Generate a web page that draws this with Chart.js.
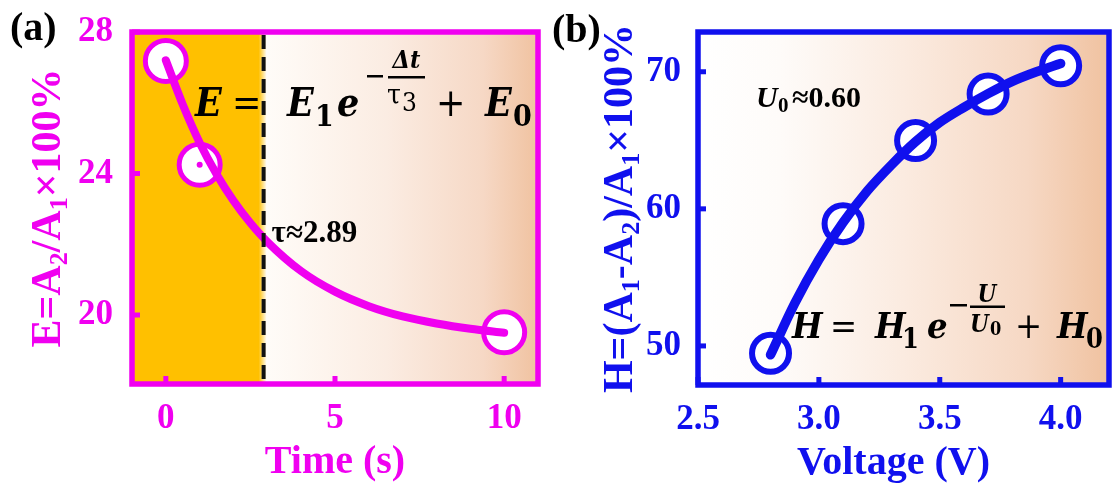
<!DOCTYPE html>
<html>
<head>
<meta charset="utf-8">
<script src="https://cdn.jsdelivr.net/npm/chart.js@4.4.1/dist/chart.umd.min.js"></script>
<style>
  html, body { margin: 0; padding: 0; background: #ffffff; }
  #wrap { position: relative; width: 1112px; height: 488px; overflow: hidden; background: #ffffff; }
  canvas { position: absolute; top: 0; }
  #chartA { left: 0; }
  #chartB { left: 545px; }
</style>
</head>
<body>
<div id="wrap">
  <canvas id="chartA" width="555" height="488"></canvas>
  <canvas id="chartB" width="567" height="488"></canvas>
</div>
<script>
// (a) retention ratio versus time
const timeS = [0, 1, 10];
const ratioE = [27.18, 24.25, 19.51];
const fitTimeS = [0, 0.5, 1, 1.5, 2, 2.5, 3, 4, 5, 6, 7, 8, 9, 10];
const fitE = [27.2, 25.95, 24.87, 23.98, 23.23, 22.6, 22.07, 21.24, 20.66, 20.25, 19.96, 19.76, 19.61, 19.5];
const timeTicks = [0, 5, 10];
const eTicks = [20, 24, 28];
const tauTime = 2.89;

// (b) modulation ratio versus voltage
const voltageV = [2.8, 3.1, 3.4, 3.7, 4.0];
const ratioH = [49.47, 58.92, 64.98, 68.38, 70.44];
const fitVoltageV = [2.8, 2.9, 3.0, 3.1, 3.2, 3.3, 3.4, 3.5, 3.6, 3.7, 3.8, 3.9, 4.0];
const fitH = [49.35, 53.1, 56.3, 59.0, 61.3, 63.2, 64.9, 66.3, 67.4, 68.4, 69.3, 70.0, 70.6];
const voltageTicks = [2.5, 3.0, 3.5, 4.0];
const hTicks = [50, 60, 70];

const MAG = '#F000F0';
const BLUE = '#1010EE';
const ORANGE = '#FFC000';
const PEACH = '#F0C2A0';
const SERIF = '"Liberation Serif", "Times New Roman", serif';
const MATH = '"DejaVu Serif Condensed", "DejaVu Serif", serif';

function pairs(xs, ys) { return xs.map((v, i) => ({ x: v, y: ys[i] })); }

// Lays out runs of text one after another; returns total width.
function runsWidth(ctx, runs) {
  let w = 0;
  runs.forEach(r => { ctx.font = r.f; w += ctx.measureText(r.t).width; });
  return w;
}
function drawRuns(ctx, runs, x, y) {
  let cx = x;
  runs.forEach(r => {
    ctx.font = r.f;
    ctx.fillText(r.t, cx, y + (r.dy || 0));
    cx += ctx.measureText(r.t).width;
  });
}
// Places glyphs / bars at offsets from an anchor point.
function drawItems(ctx, ax, ay, items) {
  items.forEach(it => {
    if (it.bar) {
      ctx.fillRect(ax + it.x, ay + it.y, it.w, it.h);
      return;
    }
    ctx.font = it.f;
    ctx.textAlign = it.align || 'left';
    ctx.fillText(it.t, ax + it.x, ay + (it.y || 0));
  });
  ctx.textAlign = 'left';
}

function panelPlugin(o) {
  return {
    id: 'panelDecor',
    beforeDatasetsDraw(chart) {
      const { ctx, chartArea: a, scales: { x } } = chart;
      ctx.save();
      const g = ctx.createLinearGradient(a.left, 0, a.right, 0);
      const f = v => Math.min(1, Math.max(0, (v - a.left) / a.width));
      if (o.shadeTo != null) {
        const xs = x.getPixelForValue(o.shadeTo);
        g.addColorStop(0, ORANGE);
        g.addColorStop(f(xs - 5), ORANGE);
        g.addColorStop(f(xs + 3), '#FFFCF8');
        g.addColorStop(f(xs + 0.45 * (a.right - xs)), '#FBECE2');
        g.addColorStop(f(xs + 0.8 * (a.right - xs)), '#F6D8C5');
        g.addColorStop(1, PEACH);
      } else {
        g.addColorStop(0, '#FFFFFF');
        g.addColorStop(0.2, '#FEFBF9');
        g.addColorStop(0.5, '#FBEBE0');
        g.addColorStop(0.8, '#F6D8C4');
        g.addColorStop(1, PEACH);
      }
      ctx.fillStyle = g;
      ctx.fillRect(a.left, a.top, a.width, a.height);
      ctx.restore();
    },
    afterDatasetsDraw(chart) {
      const { ctx, chartArea: a, scales: { x, y } } = chart;
      ctx.save();
      // small centre dots of the hollow markers
      if (o.centerDots) {
        const meta = chart.getDatasetMeta(1);
        ctx.fillStyle = o.color;
        meta.data.forEach(p => { ctx.beginPath(); ctx.arc(p.x, p.y, 3, 0, Math.PI * 2); ctx.fill(); });
      }
      // inward tick marks
      ctx.fillStyle = o.color;
      o.xMarks.forEach(v => { const px = x.getPixelForValue(v); ctx.fillRect(px - 2.5, a.bottom - 8, 5, 8); });
      o.yMarks.forEach(v => { const py = y.getPixelForValue(v); ctx.fillRect(a.left, py - 2.5, 8, 5); });
      // frame
      ctx.strokeStyle = o.color;
      ctx.lineWidth = 5.5;
      ctx.strokeRect(a.left, a.top, a.width, a.height);
      // dashed marker line
      if (o.dashAt != null) {
        const xd = x.getPixelForValue(o.dashAt);
        ctx.strokeStyle = '#111111';
        ctx.lineWidth = 4;
        ctx.setLineDash([14, 8]);
        ctx.beginPath();
        ctx.moveTo(xd, a.top + 3);
        ctx.lineTo(xd, a.bottom - 3);
        ctx.stroke();
        ctx.setLineDash([]);
      }
      ctx.fillStyle = '#000000';
      ctx.textBaseline = 'alphabetic';
      o.annotate(ctx, chart);
      ctx.restore();
    },
    afterDraw(chart) {
      const { ctx, chartArea: a } = chart;
      ctx.save();
      ctx.textBaseline = 'alphabetic';
      // x title
      ctx.fillStyle = o.color;
      ctx.font = 'bold 40px ' + SERIF;
      ctx.textAlign = 'center';
      ctx.fillText(o.xTitle, (a.left + a.right) / 2 + o.xTitleDx, o.xTitleY);
      // y title with subscripts
      ctx.textAlign = 'left';
      ctx.translate(o.yTitleX, (a.top + a.bottom) / 2);
      ctx.rotate(-Math.PI / 2);
      const w = runsWidth(ctx, o.yTitle);
      drawRuns(ctx, o.yTitle, -w / 2, 0);
      ctx.restore();
      // panel letter
      ctx.save();
      ctx.fillStyle = '#000000';
      ctx.font = 'bold 40px ' + SERIF;
      ctx.textAlign = 'left';
      ctx.textBaseline = 'alphabetic';
      ctx.fillText(o.label, o.labelX, o.labelY);
      ctx.restore();
    }
  };
}

const MAINF = 'bold 42px ' + SERIF;
const SUBF = 'bold 26px ' + SERIF;

function tickFont() { return { family: 'Liberation Serif', weight: 'bold', size: 35 }; }

function makeChart(id, cfg) {
  return new Chart(document.getElementById(id), {
    type: 'scatter',
    data: {
      datasets: [
        {
          data: cfg.fit,
          showLine: true,
          borderColor: cfg.color,
          borderWidth: cfg.lineWidth,
          borderCapStyle: 'round',
          borderJoinStyle: 'round',
          cubicInterpolationMode: 'monotone',
          pointRadius: 0,
          pointHoverRadius: 0,
          fill: false,
          order: 0
        },
        {
          data: cfg.points,
          showLine: false,
          pointRadius: cfg.markerRadius,
          pointHoverRadius: cfg.markerRadius,
          pointBorderWidth: cfg.markerBorder,
          pointBackgroundColor: '#FFFFFF',
          pointBorderColor: cfg.color,
          order: 1
        }
      ]
    },
    options: {
      responsive: false,
      animation: false,
      devicePixelRatio: 1,
      events: [],
      layout: { padding: cfg.padding, autoPadding: false },
      plugins: { legend: { display: false }, tooltip: { enabled: false } },
      scales: {
        x: {
          type: 'linear',
          min: cfg.xMin, max: cfg.xMax,
          grid: { display: false },
          border: { display: false },
          afterFit: s => { s.height = cfg.xAxisHeight; },
          afterBuildTicks: s => { s.ticks = cfg.xTicks.map(v => ({ value: v })); },
          ticks: {
            color: cfg.color, font: tickFont(), padding: 6,
            maxRotation: 0, autoSkip: false,
            callback: cfg.xFormat
          }
        },
        y: {
          type: 'linear',
          min: cfg.yMin, max: cfg.yMax,
          grid: { display: false },
          border: { display: false },
          afterFit: s => { s.width = cfg.yAxisWidth; },
          afterBuildTicks: s => { s.ticks = cfg.yTicks.map(v => ({ value: v })); },
          ticks: { color: cfg.color, font: tickFont(), padding: cfg.yPad, autoSkip: false }
        }
      }
    },
    plugins: [panelPlugin(cfg.decor)]
  });
}

// ---------- (a) ----------
makeChart('chartA', {
  color: MAG,
  fit: pairs(fitTimeS, fitE),
  points: pairs(timeS, ratioE),
  lineWidth: 8,
  markerRadius: 20.5,
  markerBorder: 5,
  padding: { top: 31, right: 17, bottom: 0, left: 0 },
  xMin: -1, xMax: 11, yMin: 18.05, yMax: 28,
  xAxisHeight: 104, yAxisWidth: 132, yPad: 11,
  xTicks: timeTicks, yTicks: eTicks,
  xFormat: v => String(v),
  decor: {
    color: MAG,
    shadeTo: tauTime,
    dashAt: tauTime,
    centerDots: true,
    xMarks: timeTicks,
    yMarks: eTicks,
    xTitle: 'Time (s)', xTitleY: 473, xTitleDx: 0,
    yTitleX: 60,
    yTitle: [
      { t: 'E=A', f: MAINF }, { t: '2', f: SUBF, dy: 7 },
      { t: '/A', f: MAINF }, { t: '1', f: SUBF, dy: 7 },
      { t: '\u00D7100%', f: MAINF }
    ],
    label: '(a)', labelX: 10, labelY: 40,
    annotate(ctx, chart) {
      const a = chart.chartArea;
      const xd = chart.scales.x.getPixelForValue(tauTime);
      const FA = 'italic bold 39px ' + MATH;
      const FR = '39px ' + MATH;
      const FS = 'bold 30px ' + MATH;
      drawItems(ctx, a.left + 63, a.top + 84, [
        { t: 'E', f: FA, x: 0 },
        { t: '=', f: FR, x: 37 },
        { t: 'E', f: FA, x: 92 },
        { t: '1', f: FS, x: 120, y: 10 },
        { t: 'e', f: FA, x: 142 },
        { bar: true, x: 172, y: -41, w: 16, h: 2.5 },
        { bar: true, x: 193, y: -40, w: 37, h: 2.5 },
        { t: '\u0394t', f: 'italic bold 25px ' + MATH, x: 211.5, y: -48, align: 'center' },
        { t: '\u03C4', f: '28px ' + MATH, x: 192, y: -12 },
        { t: '3', f: '26px ' + MATH, x: 207, y: -5 },
        { t: '+', f: FR, x: 241 },
        { t: 'E', f: FA, x: 290 },
        { t: '0', f: FS, x: 318, y: 10 }
      ]);
      ctx.font = 'bold 31px ' + SERIF;
      ctx.fillText('\u03C4\u22482.89', xd + 8, 242);
    }
  }
});

// ---------- (b) ----------
makeChart('chartB', {
  color: BLUE,
  fit: pairs(fitVoltageV, fitH),
  points: pairs(voltageV, ratioH),
  lineWidth: 9.5,
  markerRadius: 18.5,
  markerBorder: 6,
  padding: { top: 32, right: 3, bottom: 0, left: 0 },
  xMin: 2.5, xMax: 4.2, yMin: 47.15, yMax: 72.9,
  xAxisHeight: 103, yAxisWidth: 153, yPad: 9,
  xTicks: voltageTicks, yTicks: hTicks,
  xFormat: v => Number(v).toFixed(1),
  decor: {
    color: BLUE,
    shadeTo: null,
    dashAt: null,
    centerDots: false,
    xMarks: voltageTicks,
    yMarks: hTicks,
    xTitle: 'Voltage (V)', xTitleY: 474, xTitleDx: -10,
    yTitleX: 87,
    yTitle: [
      { t: 'H=(A', f: MAINF }, { t: '1', f: SUBF, dy: 7 },
      { t: '-A', f: MAINF }, { t: '2', f: SUBF, dy: 7 },
      { t: ')/A', f: MAINF }, { t: '1', f: SUBF, dy: 7 },
      { t: '\u00D7100%', f: MAINF }
    ],
    label: '(b)', labelX: 7, labelY: 42,
    annotate(ctx, chart) {
      const a = chart.chartArea;
      const FA = 'italic bold 36px ' + MATH;
      const FR = '36px ' + MATH;
      const FS = 'bold 27px ' + MATH;
      drawItems(ctx, a.left + 94, a.top + 306, [
        { t: 'H', f: FA, x: 0 },
        { t: '=', f: FR, x: 38 },
        { t: 'H', f: FA, x: 83 },
        { t: '1', f: FS, x: 110, y: 10 },
        { t: 'e', f: FA, x: 135 },
        { bar: true, x: 158, y: -34, w: 17, h: 2.5 },
        { bar: true, x: 178, y: -32.5, w: 35, h: 2.5 },
        { t: 'U', f: 'italic bold 24px ' + MATH, x: 195, y: -36, align: 'center' },
        { t: 'U', f: 'italic bold 24px ' + MATH, x: 178, y: -6 },
        { t: '0', f: 'bold 18px ' + MATH, x: 198, y: -3 },
        { t: '+', f: FR, x: 223 },
        { t: 'H', f: FA, x: 265 },
        { t: '0', f: FS, x: 294, y: 10 }
      ]);
      drawItems(ctx, a.left + 58, a.top + 75, [
        { t: 'U', f: 'italic bold 30px ' + SERIF, x: 0 },
        { t: '0', f: 'bold 21px ' + SERIF, x: 22, y: 5 },
        { t: '\u22480.60', f: 'bold 30px ' + SERIF, x: 36 }
      ]);
    }
  }
});
</script>
</body>
</html>
